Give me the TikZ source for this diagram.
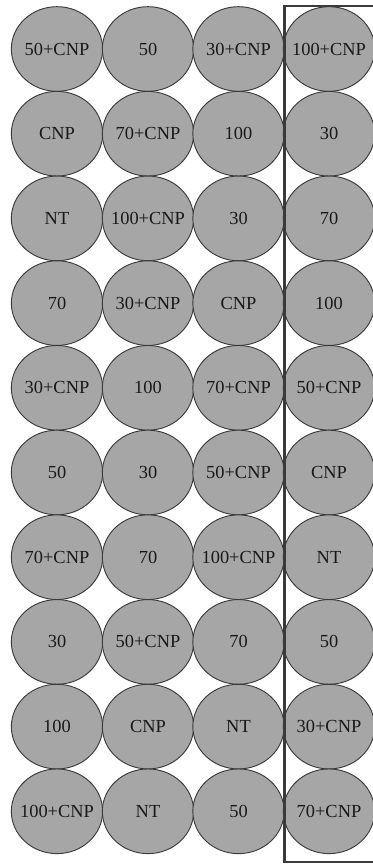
\documentclass[tikz,border=0pt]{standalone}
\usepackage{fontspec}
\setmainfont{Liberation Serif}
\usetikzlibrary{shapes.geometric}
\definecolor{cellfill}{HTML}{A6A6A6}
\definecolor{cellline}{HTML}{3A3A3A}
\tikzset{
  cell/.style={ellipse, draw=cellline, line width=0.7pt, fill=cellfill,
    minimum width=68.5pt, minimum height=63.5pt, inner sep=0pt,
    font=\fontsize{13.8}{16}\selectfont, text=black!90},
  frame/.style={draw=cellline, line width=1.6pt}
}
\begin{document}
\begin{tikzpicture}[x=0.75pt,y=-0.75pt]
\useasboundingbox (0,0) rectangle (373,865);
\foreach \r/\a/\b/\c/\d in {
  1/50+CNP/50/30+CNP/100+CNP,
  2/CNP/70+CNP/100/30,
  3/NT/100+CNP/30/70,
  4/70/30+CNP/CNP/100,
  5/30+CNP/100/70+CNP/50+CNP,
  6/50/30/50+CNP/CNP,
  7/70+CNP/70/100+CNP/NT,
  8/30/50+CNP/70/50,
  9/100/CNP/NT/30+CNP,
  10/100+CNP/NT/50/70+CNP}{
  \pgfmathsetmacro{\yy}{49+(\r-1)*84.7}
  \node[cell] (c\r-1) at (57,\yy) {\makebox[0pt]{\a}};
  \node[cell] (c\r-2) at (148,\yy) {\makebox[0pt]{\b}};
  \node[cell] (c\r-3) at (238.5,\yy) {\makebox[0pt]{\c}};
  \node[cell] (c\r-4) at (329,\yy) {\makebox[0pt]{\d}};
}
\draw[frame] (380,6) -- (284.5,6) -- (284.5,862) -- (380,862);
\end{tikzpicture}
\end{document}
